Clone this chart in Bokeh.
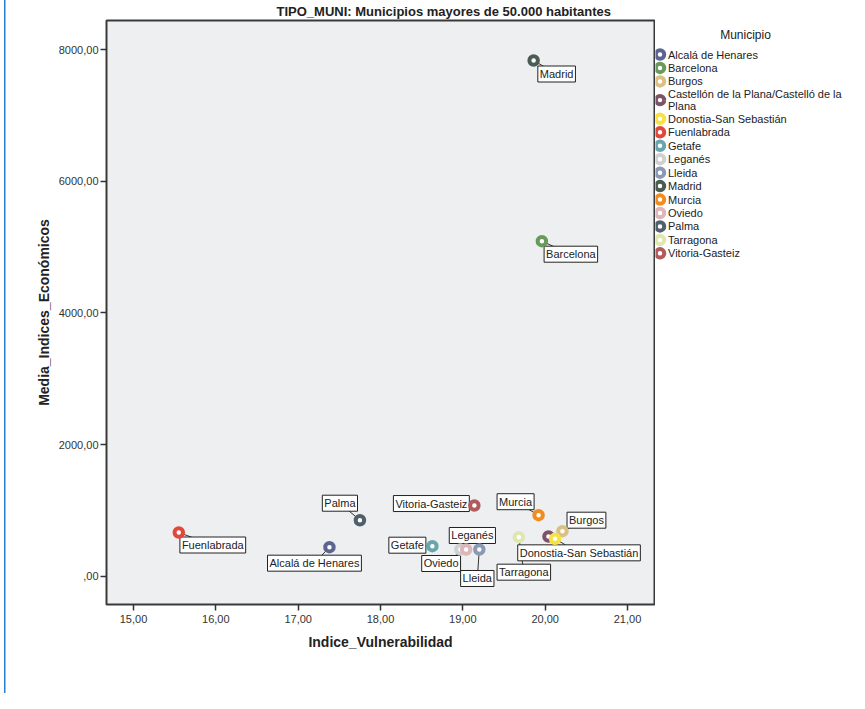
from bokeh.plotting import figure
from bokeh.layouts import row
from bokeh.models import Range1d, FixedTicker, ColumnDataSource
from bokeh.core.properties import value, field
from bokeh.embed import file_html
from bokeh.resources import INLINE

# ---------------- data ----------------
municipios = [
    "Alcalá de Henares", "Barcelona", "Burgos",
    "Castellón de la Plana/Castelló de la Plana", "Donostia-San Sebastián",
    "Fuenlabrada", "Getafe", "Leganés", "Lleida", "Madrid", "Murcia",
    "Oviedo", "Palma", "Tarragona", "Vitoria-Gasteiz",
]
legend_labels = [
    "Alcalá de Henares", "Barcelona", "Burgos",
    "Castellón de la Plana/Castelló de la\nPlana", "Donostia-San Sebastián",
    "Fuenlabrada", "Getafe", "Leganés", "Lleida", "Madrid", "Murcia",
    "Oviedo", "Palma", "Tarragona", "Vitoria-Gasteiz",
]
indice_vulnerabilidad = [17.38, 19.96, 20.21, 20.04, 20.12, 15.55, 18.63, 18.97,
                         19.20, 19.86, 19.92, 19.04, 17.75, 19.68, 19.14]
media_indices_economicos = [441, 5091, 684, 603, 568, 664, 456, 406,
                            406, 7837, 927, 406, 851, 593, 1074]
colores = ["#5c6590", "#6a9a5b", "#d9c184", "#7c5468", "#f7e243",
           "#e0483b", "#68a6ad", "#cfd0d0", "#8a9ab5", "#4b5d52",
           "#f28c1f", "#ddb6b9", "#4f5f6c", "#dfe6b0", "#b05c5c"]
etiquetado = [True, True, True, False, True, True, True, True,
              True, True, True, True, True, True, True]

x_ticks = [15, 16, 17, 18, 19, 20, 21]
x_tick_labels = ["15,00", "16,00", "17,00", "18,00", "19,00", "20,00", "21,00"]
y_ticks = [0, 2000, 4000, 6000, 8000]
y_tick_labels = [",00", "2000,00", "4000,00", "6000,00", "8000,00"]

titulo = "TIPO_MUNI: Municipios mayores de 50.000 habitantes"
x_titulo = "Indice_Vulnerabilidad"
y_titulo = "Media_Indices_Económicos"
leyenda_titulo = "Municipio"

# ---------------- label box offsets (pixels, +dy = down) ----------------
label_dx = [-15, 29, 24, 0, 24, 34, -25, 12, -2, 23, -23, -25, -20, 5, -43]
label_dy = [16, 13, -11, 0, 14, 12.5, -1, -14, 29, 13.5, -13.5, 14, -17, 35, -2]

# ---------------- layout ----------------
FONT = "Liberation Sans"
W, H = 849, 693
ML, MT = 106, 20
FRAME_RIGHT, FRAME_BOTTOM = 654, 604
MR = 1
W1 = FRAME_RIGHT + MR
W2 = W - W1
MB = H - FRAME_BOTTOM
FW, FH = FRAME_RIGHT - ML, FRAME_BOTTOM - MT
X0, X1 = 14.672, 21.328
Y0, Y1 = -430, 8445
pxx = FW / (X1 - X0)
pxy = FH / (Y1 - Y0)

p = figure(width=W1, height=H, output_backend="svg", toolbar_location=None,
           x_range=Range1d(X0, X1), y_range=Range1d(Y0, Y1),
           min_border_left=ML, min_border_right=MR, min_border_top=MT,
           min_border_bottom=MB)
p.background_fill_color = "#eeeff1"
p.border_fill_color = "white"
p.border_fill_alpha = 0
p.outline_line_color = "#3a3a3a"
p.outline_line_width = 2
p.grid.visible = False

p.title.text = titulo
p.title.text_font = FONT
p.title.text_font_size = "13px"
p.title.text_font_style = "bold"
p.title.text_color = "#222222"
p.title.align = "left"
p.title.offset = 170
p.title.standoff = 3

for ax in (p.xaxis[0], p.yaxis[0]):
    ax.axis_line_color = None
    ax.major_tick_in = 0
    ax.major_tick_out = 6
    ax.major_tick_line_color = "#333333"
    ax.major_tick_line_width = 1.5
    ax.minor_tick_line_color = None
    ax.major_label_text_font = FONT
    ax.major_label_text_font_size = "11px"
    ax.major_label_text_color = "#333333"
    ax.axis_label_text_font = FONT
    ax.axis_label_text_font_size = "14px"
    ax.axis_label_text_font_style = "bold"
    ax.axis_label_text_color = "#222222"

p.xaxis[0].ticker = FixedTicker(ticks=x_ticks)
p.xaxis[0].major_label_overrides = dict(zip(x_ticks, x_tick_labels))
p.xaxis[0].axis_label = x_titulo
p.xaxis[0].major_label_standoff = 4
p.xaxis[0].axis_label_standoff = 8
p.yaxis[0].ticker = FixedTicker(ticks=y_ticks)
p.yaxis[0].major_label_overrides = dict(zip(y_ticks, y_tick_labels))
p.yaxis[0].axis_label = y_titulo
p.yaxis[0].major_label_standoff = 2
p.yaxis[0].axis_label_standoff = 4

# ---------------- main plot ----------------
src = ColumnDataSource(dict(x=indice_vulnerabilidad, y=media_indices_economicos,
                            color=colores, name=municipios))

lx, ly, lt, ldx, ldy, sx1, sy1 = [], [], [], [], [], [], []
for i, m in enumerate(municipios):
    if not etiquetado[i]:
        continue
    xv, yv = indice_vulnerabilidad[i], media_indices_economicos[i]
    lx.append(xv); ly.append(yv); lt.append(m)
    ldx.append(label_dx[i]); ldy.append(label_dy[i])
    sx1.append(xv + label_dx[i] / pxx)
    sy1.append(yv - label_dy[i] / pxy)
lsrc = ColumnDataSource(dict(x=lx, y=ly, text=lt, dx=ldx, dy=ldy, x1=sx1, y1=sy1))

p.segment(x0="x", y0="y", x1="x1", y1="y1", source=lsrc,
          line_color="#333333", line_width=1)
p.text(x="x", y="y", text="text", x_offset="dx", y_offset="dy", source=lsrc,
       text_align="center", text_baseline="middle",
       text_font=value(FONT), text_font_size="11px", text_color="#222222",
       background_fill_color="white", border_line_color="#222222",
       border_line_width=1, padding=2)
p.scatter(x="x", y="y", source=src, size=8.5, fill_color="white",
          line_color=field("color"), line_width=4)

# ---------------- legend panel (page pixel coordinates, y down) ----------------
# the row aligns this figure's frame with the main frame (rows MT..FRAME_BOTTOM)
leg = figure(width=W2, height=H, output_backend="svg", toolbar_location=None,
             x_range=Range1d(0, W2), y_range=Range1d(FRAME_BOTTOM, MT),
             x_axis_location=None, y_axis_location=None,
             min_border_left=0, min_border_right=0, min_border_top=MT,
             min_border_bottom=MB)
leg.grid.visible = False
leg.outline_line_color = None
leg.background_fill_color = "white"
leg.border_fill_color = "white"

ITEM_H, TWO_LINE_H = 13.45, 24.0
item_h = [TWO_LINE_H if "\n" in s else ITEM_H for s in legend_labels]
ly_pos = [54.0]
for k in range(1, len(item_h)):
    ly_pos.append(ly_pos[-1] + (item_h[k - 1] + item_h[k]) / 2)
MARK_X, TEXT_X = 4.5, 12.5

lsrc2 = ColumnDataSource(dict(x=[MARK_X] * len(legend_labels), tx=[TEXT_X] * len(legend_labels),
                              y=ly_pos, text=legend_labels, color=colores))
leg.scatter(x="x", y="y", source=lsrc2, size=8.5, fill_color="white",
            line_color=field("color"), line_width=4)
leg.text(x="tx", y="y", text="text", source=lsrc2, text_align="left",
         text_baseline="middle", text_font=value(FONT), text_font_size="11px",
         text_color="#222222", text_line_height=1.0)
leg.text(x=[90], y=[34], text=[leyenda_titulo], text_align="center",
         text_baseline="middle", text_font=value(FONT), text_font_size="12px",
         text_color="#222222")

layout = row(p, leg, spacing=0)
# thin blue selection border of the original output viewer, at the left edge
layout.styles = {"box-shadow": "inset 4px 0 0 0 white, inset 5.5px 0 0 0 #2a7fd0",
                 "background-color": "white"}
open("out.html", "w").write(file_html(layout, INLINE))
